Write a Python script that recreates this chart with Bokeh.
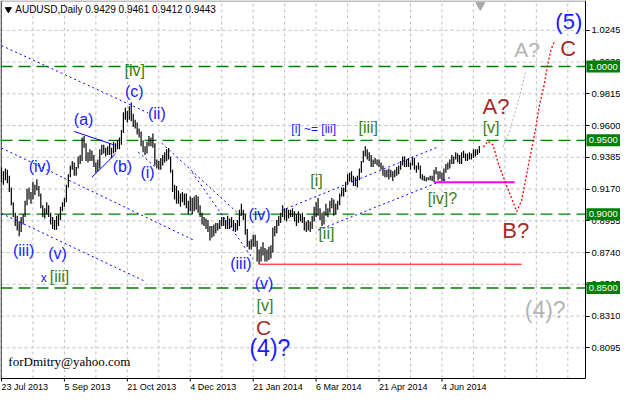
from bokeh.plotting import figure
from bokeh.models import Range1d, FixedTicker, ColumnDataSource, NumeralTickFormatter
from bokeh.core.properties import value
from bokeh.embed import file_html
from bokeh.resources import INLINE

# ---------------- data ----------------
highs = [
    .9316, .9290, .9310, .9300, .9260, .9180, .9080, .9010, .8990, .8950,
    .8980, .9000, .9090, .9170, .9180, .9150, .9220, .9200, .9236, .9190,
    .9140, .9060, .9040, .9080, .9060, .9010, .8980, .8960, .8990, .9000,
    .9050, .9080, .9110, .9200, .9270, .9330, .9360, .9350, .9320, .9390,
    .9400, .9520, .9529, .9480, .9420, .9440, .9430, .9400, .9350, .9370,
    .9440, .9470, .9470, .9450, .9460, .9480, .9450, .9490, .9480, .9500,
    .9520, .9570, .9690, .9720, .9700, .9730, .9757, .9680, .9640, .9620,
    .9580, .9560, .9500, .9460, .9490, .9530, .9520, .9547, .9480, .9370,
    .9360, .9380, .9400, .9420, .9440, .9448, .9390, .9300, .9200, .9190,
    .9160, .9140, .9150, .9140, .9140, .9090, .9120, .9110, .9120, .9130,
    .9120, .9060, .9010, .8980, .8970, .8960, .8920, .8920, .8930, .8940,
    .8940, .8960, .8980, .8980, .8960, .8990, .8970, .8980, .8960, .8940,
    .8960, .9030, .9070, .9030, .9000, .8900, .8820, .8830, .8860, .8860,
    .8820, .8760, .8780, .8810, .8770, .8760, .8780, .8790, .8910, .8920,
    .8960, .8990, .9010, .9060, .9040, .9040, .9030, .9030, .9040, .9020,
    .9000, .9020, .9000, .9010, .8980, .8950, .8960, .8950, .8990, .9050,
    .9080, .9110, .9040, .9010, .9020, .9070, .9040, .9090, .9110, .9100,
    .9070, .9090, .9140, .9180, .9180, .9220, .9270, .9280, .9290, .9260,
    .9250, .9260, .9310, .9360, .9430, .9460, .9440, .9420, .9400, .9370,
    .9380, .9370, .9370, .9350, .9330, .9300, .9300, .9310, .9300, .9290,
    .9300, .9320, .9330, .9360, .9390, .9390, .9370, .9380, .9350, .9390,
    .9380, .9330, .9350, .9330, .9270, .9260, .9250, .9250, .9260, .9260,
    .9300, .9320, .9290, .9290, .9280, .9310, .9340, .9350, .9370, .9400,
    .9390, .9420, .9410, .9400, .9420, .9430, .9410, .9410, .9420, .9410,
    .9440, .9440, .9440, .9461,
]
lows = [
    .9215, .9200, .9230, .9210, .9150, .9060, .8980, .8920, .8890, .8850,
    .8880, .8930, .8980, .9060, .9100, .9070, .9100, .9130, .9160, .9120,
    .9040, .8980, .8970, .9000, .8980, .8930, .8900, .8892, .8895, .8920,
    .8960, .9020, .9050, .9080, .9180, .9250, .9300, .9260, .9260, .9310,
    .9340, .9360, .9450, .9360, .9350, .9360, .9360, .9320, .9280, .9290,
    .9310, .9400, .9410, .9390, .9400, .9400, .9380, .9410, .9420, .9440,
    .9440, .9470, .9550, .9640, .9620, .9640, .9630, .9590, .9580, .9540,
    .9520, .9460, .9420, .9400, .9410, .9460, .9460, .9450, .9330, .9310,
    .9300, .9300, .9330, .9350, .9360, .9370, .9280, .9150, .9100, .9070,
    .9070, .9050, .9080, .9060, .9040, .9000, .9020, .9000, .9020, .9030,
    .9010, .8980, .8930, .8920, .8900, .8880, .8821, .8840, .8850, .8870,
    .8890, .8900, .8920, .8920, .8900, .8900, .8900, .8910, .8890, .8880,
    .8890, .8920, .8990, .8960, .8860, .8780, .8760, .8760, .8780, .8780,
    .8680, .8660, .8680, .8720, .8680, .8680, .8690, .8700, .8740, .8850,
    .8870, .8920, .8940, .8980, .8960, .8950, .8970, .8980, .8980, .8950,
    .8920, .8940, .8950, .8940, .8890, .8880, .8890, .8880, .8900, .8950,
    .8980, .8990, .8960, .8920, .8930, .8990, .8980, .9010, .9040, .8990,
    .9000, .9030, .9060, .9120, .9120, .9150, .9200, .9220, .9220, .9190,
    .9190, .9180, .9230, .9280, .9350, .9390, .9370, .9360, .9320, .9320,
    .9340, .9330, .9320, .9300, .9260, .9250, .9250, .9235, .9250, .9225,
    .9250, .9260, .9270, .9300, .9330, .9320, .9320, .9320, .9300, .9330,
    .9300, .9280, .9300, .9240, .9230, .9225, .9222, .9230, .9230, .9225,
    .9217, .9270, .9230, .9240, .9225, .9220, .9280, .9300, .9310, .9340,
    .9340, .9370, .9350, .9340, .9340, .9380, .9360, .9360, .9370, .9370,
    .9380, .9390, .9400, .9412,
]
bar_index = list(range(len(highs)))

date_ticks = [0, 32, 64, 96, 128, 160, 192, 224]
date_labels = ["23 Jul 2013", "5 Sep 2013", "21 Oct 2013", "4 Dec 2013",
               "21 Jan 2014", "6 Mar 2014", "21 Apr 2014", "4 Jun 2014"]
date_label_halfwidth = [11.82, 11.70, 12.46, 11.70, 12.59, 11.57, 12.46, 11.32]  # in bars
grid_x = list(range(0, 297, 16))
price_ticks = [0.8095, 0.8310, 0.8525, 0.8740, 0.8955, 0.9170,
               0.9385, 0.9600, 0.9815, 1.0030, 1.0245]
level_prices = [1.0000, 0.9500, 0.9000, 0.8500]
level_texts = ["1.0000", "0.9500", "0.9000", "0.8500"]

# trend lines (bar index, price)
dotted_lines = [
    ([0, 74.5], [1.0142, 0.9686]),
    ([0, 97.5], [0.9448, 0.8826]),
    ([0, 72.5], [0.9005, 0.8548]),
    ([69.5, 78.5], [0.9421, 0.9316]),
    ([81.5, 122], [0.9481, 0.8985]),
    ([97, 128], [0.9283, 0.8694]),
    ([142.5, 222], [0.9025, 0.9455]),
    ([161, 228.5], [0.8892, 0.9250]),
]
solid_blue_lines = [
    ([37, 57.5], [0.9560, 0.9468]),
    ([46, 58], [0.9250, 0.9408]),
]
red_path_x = [245, 247.5, 250, 252.5, 256, 259.5, 262, 264.5, 268.5, 271.5, 273.5, 276, 277.5, 279.5, 281]
red_path_y = [0.9455, 0.9494, 0.9468, 0.9349, 0.9223, 0.9104, 0.9018, 0.9091, 0.9369, 0.9567, 0.9732, 0.9878, 0.9997, 1.0116, 1.0162]
gray_path_x = [255, 258.5, 263.5, 266.5]
gray_path_y = [0.9455, 0.9567, 0.9798, 0.9964]
magenta_x = [220, 261]
magenta_y = [0.9216, 0.9216]
red_line_x = [131, 264.5]
red_line_y = [0.8661, 0.8661]

BLUE = "#1a1aff"
GREEN = "#3a7d1c"
DRED = "#a52a2a"
GRAY = "#b4b4b4"
labels_text = ["(iv)", "(iii)", "(v)", "(a)", "(b)", "(c)", "(ii)", "(i)", "[iv]",
               "x", "[iii]", "[i] ~= [iii]", "[iii]", "[i]", "[ii]", "[iv]?", "[v]",
               "A?", "B?", "C", "(5)", "A?", "(4)?",
               "(iii)", "(v)", "[v]", "C", "(4)?", "(iv)"]
labels_x = [19.5, 11.25, 28.5, 41.75, 61.5, 67.5, 79, 74.25, 67.75,
            21.5, 29.5, 158.75, 186.5, 160.25, 165.25, 224.25, 249,
            251.5, 261.5, 288.25, 288.5, 267.25, 276.5,
            121.75, 133.5, 134, 133.25, 136.5, 131.25]
labels_y = [0.9322, 0.8757, 0.8734, 0.9640, 0.9326, 0.9828, 0.9683, 0.9279, 0.9970,
            0.8568, 0.8575, 0.9580, 0.9584, 0.9230, 0.8866, 0.9104, 0.9590,
            0.9732, 0.8892, 1.0119, 1.0308, 1.0113, 0.8350,
            0.8668, 0.8532, 0.8383, 0.8234, 0.8095, 0.8995]
labels_color = [BLUE] * 8 + [GREEN, BLUE, GREEN, BLUE, GREEN, GREEN, GREEN, GREEN, GREEN,
                DRED, DRED, DRED, BLUE, GRAY, GRAY,
                BLUE, BLUE, GREEN, DRED, BLUE, BLUE]
labels_size = ["16px"] * 9 + ["12px", "16px", "12px", "16px", "16px", "16px", "16px", "16px",
               "22px", "22px", "22px", "22px", "21px", "23px",
               "16px", "16px", "16px", "21px", "23px", "16px"]

# ---------------- geometry of the plot area ----------------
X0, X1 = -0.5, 297.0          # plot area in bar units
Y0, Y1 = 0.7887, 1.0447       # plot area in price units
PX_PER_BAR = 585 / (X1 - X0)
PX_PER_PRICE = 378 / (Y1 - Y0)
W, H = 620, 392

p = figure(width=W, height=H,
           x_range=Range1d(X0, X0 + W / PX_PER_BAR),
           y_range=Range1d(Y1 - H / PX_PER_PRICE, Y1),
           output_backend="svg", toolbar_location=None,
           x_axis_location="below", y_axis_location="right",
           min_border_left=0, min_border_top=0, min_border_right=0, min_border_bottom=0)
p.background_fill_color = "white"
p.border_fill_color = "white"
p.outline_line_color = None
p.xgrid.visible = False
p.ygrid.visible = False

# axes fixed at the plot area edges
xa = p.xaxis[0]
ya = p.yaxis[0]
xa.fixed_location = Y0
ya.fixed_location = X1
xa.bounds = (X0, X1)
ya.bounds = (Y0, Y1)
for ax in (xa, ya):
    ax.axis_line_color = "black"
    ax.major_tick_line_color = "black"
    ax.minor_tick_line_color = None
    ax.major_tick_in = 0
    ax.major_label_text_font = "Liberation Sans"
    ax.major_label_text_color = "black"
ya.major_tick_out = 4
ya.major_label_standoff = 2
ya.major_label_text_font_size = "9.5px"
ya.ticker = FixedTicker(ticks=price_ticks)
ya.formatter = NumeralTickFormatter(format="0.0000")

label_pos = [round(t + hw, 2) for t, hw in zip(date_ticks, date_label_halfwidth)]
xa.ticker = FixedTicker(ticks=label_pos)
xa.major_label_overrides = {lp: l for lp, l in zip(label_pos, date_labels)}
xa.major_tick_out = 0
xa.major_label_standoff = 3
xa.major_label_text_font_size = "9px"
tick_len = 3 / PX_PER_PRICE
p.segment(x0=date_ticks, y0=[Y0] * len(date_ticks), x1=date_ticks,
          y1=[Y0 - tick_len] * len(date_ticks), line_color="black", line_width=1)

# grid
p.segment(x0=grid_x, y0=[Y0] * len(grid_x), x1=grid_x, y1=[Y1] * len(grid_x),
          line_color="#c0c0c0", line_width=1, line_dash="3 3")
p.segment(x0=[X0] * len(price_ticks), y0=price_ticks, x1=[X1] * len(price_ticks), y1=price_ticks,
          line_color="#c0c0c0", line_width=1, line_dash="3 3")

# plot area left and top borders
p.line([X0 + 0.3, X0 + 0.3], [Y0, Y1], line_color="black", line_width=1)
p.line([X0, X1], [Y1 - 0.5 / PX_PER_PRICE, Y1 - 0.5 / PX_PER_PRICE], line_color="#808080", line_width=1)

# level lines
for lv in level_prices:
    p.line([X0, X1], [lv, lv], line_color="#008000", line_width=1.3, line_dash="12 6")

# bars
p.segment(x0=bar_index, y0=lows, x1=bar_index, y1=highs, line_color="black", line_width=1.2)

# trend lines
for xs, ys in dotted_lines:
    p.line(xs, ys, line_color="blue", line_width=1, line_dash="2 3")
for xs, ys in solid_blue_lines:
    p.line(xs, ys, line_color="blue", line_width=1)
p.line(magenta_x, magenta_y, line_color="#ff00ff", line_width=2)
p.line(red_line_x, red_line_y, line_color="red", line_width=1)
p.line(red_path_x, red_path_y, line_color="red", line_width=1.3, line_dash="2 2")
p.line(gray_path_x, gray_path_y, line_color="#b0b0b0", line_width=1, line_dash="2 2")

# wave labels
src = ColumnDataSource(dict(x=labels_x, y=labels_y, t=labels_text, c=labels_color, s=labels_size))
p.text(x="x", y="y", text="t", text_color="c", text_font_size="s", source=src,
       text_align="center", text_baseline="middle", text_font=value("Liberation Sans"))

# title and signature
p.scatter(x=[3.5], y=[1.0387], marker="inverted_triangle", size=6, color="black")
p.text(x=[7.0], y=[1.0387], text=["AUDUSD,Daily  0.9429 0.9461 0.9412 0.9443"],
       text_font=value("Liberation Sans"), text_font_size="10px", text_color="black",
       text_align="left", text_baseline="middle")
p.text(x=[3.5], y=[0.7999], text=["forDmitry@yahoo.com"],
       text_font=value("Liberation Serif"), text_font_size="13px", text_color="black",
       text_align="left", text_baseline="middle")
p.scatter(x=[243.5], y=[1.0415], marker="inverted_triangle", size=9, color="#a8a8a8")

# level price boxes on the right axis (drawn above the axis labels)
box_h = 6 / PX_PER_PRICE
x_box1 = X0 + W / PX_PER_BAR
p.quad(left=[X1 + 0.5] * 4, right=[x_box1] * 4,
       bottom=[lv - box_h for lv in level_prices], top=[lv + box_h for lv in level_prices],
       fill_color="#008000", line_color=None, level="overlay")
p.text(x=[X1 + 1.6] * 4, y=level_prices, text=level_texts, text_color="white",
       text_font=value("Liberation Sans"), text_font_size="9.5px",
       text_align="left", text_baseline="middle", level="overlay")

open("out.html", "w").write(file_html(p, INLINE))
